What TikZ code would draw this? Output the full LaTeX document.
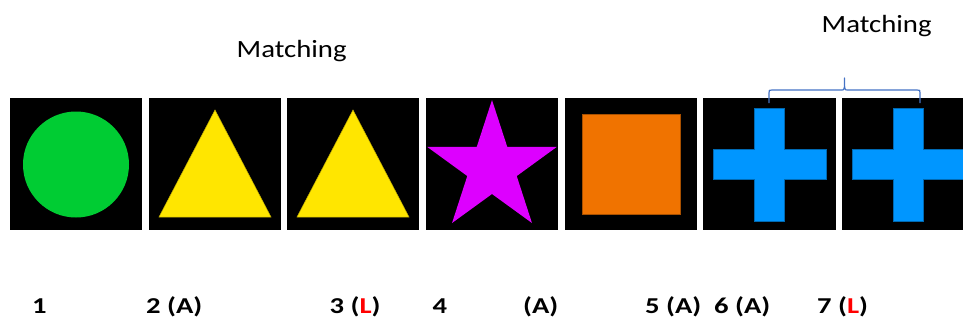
\documentclass[tikz,border=0pt]{standalone}
\usepackage{fontspec}
\setmainfont{Carlito}
\usepackage{graphicx}
\definecolor{cgreen}{RGB}{0,204,51}
\definecolor{cyellow}{RGB}{255,230,0}
\definecolor{cmagenta}{RGB}{221,0,255}
\definecolor{corange}{RGB}{240,115,0}
\definecolor{cblue}{RGB}{0,150,255}
\definecolor{bracecol}{RGB}{68,114,196}
\definecolor{lred}{RGB}{255,0,0}
\tikzset{
  tile/.style={fill=black, draw=none, inner sep=0, minimum width=132pt, minimum height=132pt},
  matchlbl/.style={anchor=base west, inner sep=0, font=\fontsize{24.8}{30}\selectfont},
  numlbl/.style={anchor=base west, inner sep=0, font=\bfseries\fontsize{22.7}{27}\selectfont},
  bracestyle/.style={draw=bracecol, line width=1.2pt, line join=round},
  edge/.style={line width=0.5pt}
}
\newcommand{\mlbl}[1]{\scalebox{1.16}[1]{#1}}
\newcommand{\nlbl}[1]{\scalebox{1.26}[1]{#1}}
\begin{document}
\begin{tikzpicture}[x=1pt,y=-1pt]
\useasboundingbox (0,0) rectangle (963,325);
\begin{scope}
\clip (0,0) rectangle (963,325);
% tiles
\node[tile] (b1) at (76,164) {};
\node[tile] (b2) at (215,164) {};
\node[tile] (b3) at (353,164) {};
\node[tile] (b4) at (492,164) {};
\node[tile] (b5) at (631,164) {};
\node[tile, minimum width=133pt] (b6) at (769.5,164) {};
\node[tile] (b7) at (908,164) {};
% shapes
\fill[cgreen] (76,164.5) circle (53);
\filldraw[fill=cyellow, draw=cyellow!75!black, edge] (215,110) -- (271,217) -- (159,217) -- cycle;
\filldraw[fill=cyellow, draw=cyellow!75!black, edge] (353,110) -- (409,217) -- (297,217) -- cycle;
\fill[cmagenta, shift={(492,168)}] (-90:68) -- (-54:26) -- (-18:68) -- (18:26) -- (54:68) -- (90:26) -- (126:68) -- (162:26) -- (198:68) -- (234:26) -- cycle;
\filldraw[fill=corange, draw=corange!70!black, edge] (582,114) rectangle (680,214);
\filldraw[fill=cblue, draw=cblue!70!black, edge] (754,108) -- (784,108) -- (784,149) -- (826,149) -- (826,179) -- (784,179) -- (784,221) -- (754,221) -- (754,179) -- (713,179) -- (713,149) -- (754,149) -- cycle;
\filldraw[fill=cblue, draw=cblue!70!black, edge] (893,108) -- (923,108) -- (923,149) -- (965,149) -- (965,179) -- (923,179) -- (923,221) -- (893,221) -- (893,179) -- (852,179) -- (852,149) -- (893,149) -- cycle;
\end{scope}
% brace
\coordinate (bl) at (769,103);
\coordinate (br) at (920,103);
\coordinate (tip) at (844.5,78);
\draw[bracestyle] (bl) -- (769,93) .. controls (769,90) .. (772,90) -- (841.5,90) .. controls (844.5,90) .. (tip) .. controls (844.5,90) .. (847.5,90) -- (917,90) .. controls (920,90) .. (920,93) -- (br);
% labels
\node[matchlbl] (m1) at (236.5,57.3) {\mlbl{Matching}};
\node[matchlbl] (m2) at (821.5,32.3) {\mlbl{Matching}};
\node[numlbl] (n1) at (32,313.5) {\nlbl{1}};
\node[numlbl] (n2) at (146,313.5) {\nlbl{2 (A)}};
\node[numlbl] (n3) at (329.5,313.5) {\nlbl{3 (\textcolor{lred}{L})}};
\node[numlbl] (n4) at (432.5,313.5) {\nlbl{4}};
\node[numlbl] (n4a) at (523,313.5) {\nlbl{(A)}};
\node[numlbl] (n5) at (645,313.5) {\nlbl{5 (A)}};
\node[numlbl] (n6) at (714,313.5) {\nlbl{6 (A)}};
\node[numlbl] (n7) at (817,313.5) {\nlbl{7 (\textcolor{lred}{L})}};
\end{tikzpicture}
\end{document}
